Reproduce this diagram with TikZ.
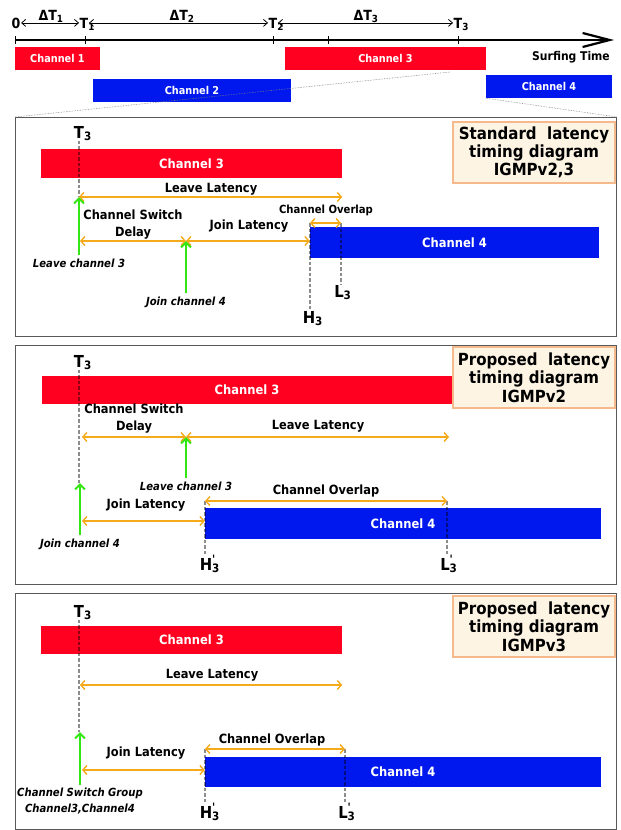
\documentclass[tikz,border=0pt]{standalone}
\usepackage{fontspec}
\setmainfont{DejaVu Sans Condensed}[BoldFont={DejaVu Sans Condensed Bold},ItalicFont={DejaVu Sans Condensed Oblique},BoldItalicFont={DejaVu Sans Condensed Bold Oblique}]
\usetikzlibrary{arrows.meta}

\definecolor{chred}{RGB}{255,0,32}
\definecolor{chblue}{RGB}{0,24,238}
\definecolor{latorange}{RGB}{245,170,25}
\definecolor{actgreen}{RGB}{50,230,20}
\definecolor{boxfill}{RGB}{253,244,228}
\definecolor{boxedge}{RGB}{245,185,140}

\newcommand{\tsub}[2]{#1\rlap{\textsubscript{#2}}}
\newcommand{\tsubp}[2]{#1\rlap{\textsuperscript{\textquotesingle}}\rlap{\textsubscript{#2}}}

\tikzset{
  lbl/.style={font=\fontsize{12.7}{17}\selectfont\bfseries, inner sep=0pt, align=center},
  smalllbl/.style={lbl, font=\fontsize{11.2}{13}\selectfont\bfseries},
  actlbl/.style={font=\fontsize{11.2}{16}\selectfont\bfseries\itshape, inner sep=3pt, align=center},
  tlbl/.style={font=\fontsize{14}{16}\selectfont\bfseries, inner sep=0.5pt},
  tname/.style={font=\fontsize{16.5}{18}\selectfont\bfseries, inner sep=0pt},
  bar/.style={inner sep=0pt, text=white, font=\fontsize{12.8}{15}\selectfont\bfseries},
  redbar/.style={bar, fill=chred, minimum height=28pt},
  bluebar/.style={bar, fill=chblue, minimum height=31pt},
  topbar/.style={minimum height=23pt, font=\fontsize{10.8}{13}\selectfont\bfseries},
  panel/.style={draw=black!65, line width=1pt, inner sep=0pt},
  titlebox/.style={draw=boxedge, fill=boxfill, line width=1.5pt, minimum width=162pt,
    minimum height=61pt, align=center, inner sep=0pt, font=\fontsize{16.7}{18.3}\selectfont\bfseries},
  lat/.style={draw=latorange, line width=1.4pt,
    {Straight Barb[length=4pt,width=9pt]}-{Straight Barb[length=4pt,width=9pt]}},
  act/.style={draw=actgreen, line width=2pt, -{Straight Barb[length=5pt,width=10pt]}},
  guide/.style={draw=black, draw opacity=0.45, line width=2pt, dash pattern=on 3.5pt off 2pt},
  axis/.style={line width=2.2pt, -{Straight Barb[length=27pt,width=14pt]}},
  axtick/.style={line width=1pt},
  gap/.style={line width=0.8pt, {Straight Barb[length=4pt,width=7pt]}-{Straight Barb[length=4pt,width=7pt]}},
  zoomline/.style={draw=black!50, line width=0.6pt, dash pattern=on 0.6pt off 1pt}
}

\begin{document}
\begin{tikzpicture}[x=1pt, y=-1pt]
    \useasboundingbox (0,0) rectangle (621,830);

    % Surfing timeline
    \draw[axis] (15,40) -- (614,40);
    \foreach \x in {15,85,273,328,458}
        \draw[axtick] (\x,36) -- (\x,44);
    \node[tlbl, anchor=base] (t0) at (16,28) {0};
    \node[tlbl, anchor=base] (t1) at (84,28) {\tsub{T}{1}};
    \node[tlbl, anchor=base] (t2) at (273,28) {\tsub{T}{2}};
    \node[tlbl, anchor=base] (t3) at (458,28) {\tsub{T}{3}};
    \draw[gap] (t0.east) -- (t1.west |- t0.east);
    \draw[gap] (t1.east |- t0.east) -- (t2.west |- t0.east);
    \draw[gap] (t2.east |- t0.east) -- (t3.west |- t0.east);
    \node[tlbl, anchor=base] (dt1) at (51,20) {ΔT\textsubscript{1}};
    \node[tlbl, anchor=base] (dt2) at (182,20) {ΔT\textsubscript{2}};
    \node[tlbl, anchor=base] (dt3) at (366,20) {ΔT\textsubscript{3}};
    \node[lbl, font=\fontsize{12}{14}\selectfont\bfseries] (surf) at (571,57) {Surfing Time};
    \node[redbar, topbar, minimum width=85pt] (ch1) at (57.5,58.5) {Channel 1};
    \node[redbar, topbar, minimum width=201pt] (ch3) at (385.5,58.5) {Channel 3};
    \node[bluebar, topbar, minimum width=198pt] (ch2) at (192,90.5) {Channel 2};
    \node[bluebar, topbar, minimum width=126pt] (ch4) at (549,86.5) {Channel 4};

    % Standard latency, IGMPv2,3
    \node[panel, minimum width=601pt, minimum height=219pt, anchor=north west] (p1) at (15,117) {};
    \coordinate (z1) at (450,72);
    \draw[zoomline] (p1.north west) -- (z1);
    \draw[zoomline] (ch4.south west) -- (p1.north east);
    \node[titlebox] (h1) at (534,152.5) {Standard\ \ latency\\timing diagram\\IGMPv2,3};
    \node[redbar, minimum width=301pt, minimum height=29pt] (r1) at (191.5,163.5) {Channel 3};
    \node[bluebar, minimum width=289pt] (b1) at (454.5,242.5) {Channel 4};
    \node[tname, anchor=base] (T1) at (79,138) {\tsub{T}{3}};
    \node[tname, anchor=base] (H1) at (309,323) {\tsub{H}{3}};
    \node[tname, anchor=base] (L1) at (339,297) {\tsub{L}{3}};
    \coordinate (s1) at (79,197);
    \coordinate (g1) at (80,241);
    \coordinate (g2) at (186,241);
    \coordinate (o1) at (310,223);
    \coordinate (e1) at (341,223);
    \draw[guide] (T1.south) -- (s1);
    \draw[guide] (o1) -- (o1 |- H1.north);
    \draw[guide] (e1) -- (e1 |- L1.north);
    \draw[lat] (s1) -- (r1.east |- s1);
    \draw[lat] (g1) -- (g2);
    \draw[lat] (g2) -- (b1.west |- g2);
    \draw[lat] (o1) -- (e1);
    \node[lbl] (ll1) at (211,189) {Leave Latency};
    \node[lbl] (csd1) at (133,224.5) {Channel Switch\\Delay};
    \node[lbl] (jl1) at (249,226) {Join Latency};
    \node[smalllbl] (co1) at (326,210) {Channel Overlap};
    \node[actlbl] (lv1) at (79,263) {Leave channel 3};
    \node[actlbl] (jc1) at (186,302) {Join channel 4};
    \draw[act] (lv1) -- (lv1 |- s1);
    \draw[act] (jc1) -- (g2);

    % Proposed latency, IGMPv2
    \node[panel, minimum width=601pt, minimum height=239pt, anchor=north west] (p2) at (15,345) {};
    \node[redbar, minimum width=410pt] (r2) at (247,390) {Channel 3};
    \node[titlebox] (h2) at (534,377.5) {Proposed\ \ latency\\timing diagram\\IGMPv2};
    \node[bluebar, minimum width=396pt] (b2) at (403,523.5) {Channel 4};
    \node[tname, anchor=base] (T2) at (79,367) {\tsub{T}{3}};
    \node[tname, anchor=base] (H2) at (206,570) {\tsubp{H}{3}};
    \node[tname, anchor=base] (L2) at (445,570) {\tsubp{L}{3}};
    \coordinate (s2) at (79,483);
    \coordinate (g3) at (82,437);
    \coordinate (g4) at (186,437);
    \coordinate (e2) at (449,437);
    \coordinate (j2) at (82,521);
    \coordinate (o2) at (205,501);
    \coordinate (e3) at (447,501);
    \draw[guide] (T2.south) -- (s2);
    \draw[guide] (o2) -- (o2 |- H2.north);
    \draw[guide] (e3) -- (e3 |- L2.north);
    \draw[lat] (g3) -- (g4);
    \draw[lat] (g4) -- (e2);
    \draw[lat] (j2) -- (b2.west |- j2);
    \draw[lat] (o2) -- (e3);
    \node[lbl] (csd2) at (134,419) {Channel Switch\\Delay};
    \node[lbl] (ll2) at (318,426) {Leave Latency};
    \node[lbl] (jl2) at (146,505) {Join Latency};
    \node[lbl] (co2) at (326,491) {Channel Overlap};
    \node[actlbl] (lv2) at (186,486) {Leave channel 3};
    \node[actlbl] (jc2) at (80,544) {Join channel 4};
    \draw[act] (lv2) -- (g4);
    \draw[act] (jc2) -- (jc2 |- s2);

    % Proposed latency, IGMPv3
    \node[panel, minimum width=601pt, minimum height=235.5pt, anchor=north west] (p3) at (15,593) {};
    \node[titlebox] (h3) at (534,626.5) {Proposed\ \ latency\\timing diagram\\IGMPv3};
    \node[redbar, minimum width=301pt] (r3) at (191.5,640) {Channel 3};
    \node[bluebar, minimum width=396pt, minimum height=30pt] (b3) at (403,772) {Channel 4};
    \node[tname, anchor=base] (T3) at (79,617) {\tsub{T}{3}};
    \node[tname, anchor=base] (H3) at (206,818) {\tsubp{H}{3}};
    \node[tname, anchor=base] (L3) at (343,818) {\tsubp{L}{3}};
    \coordinate (s3) at (79,732);
    \coordinate (a3) at (80,685);
    \coordinate (j3) at (82,770);
    \coordinate (o3) at (205,749);
    \coordinate (e4) at (345,749);
    \draw[guide] (T3.south) -- (s3);
    \draw[guide] (o3) -- (o3 |- H3.north);
    \draw[guide] (e4) -- (e4 |- L3.north);
    \draw[lat] (a3) -- (r3.east |- a3);
    \draw[lat] (j3) -- (b3.west |- j3);
    \draw[lat] (o3) -- (e4);
    \node[lbl] (ll3) at (212,675) {Leave Latency};
    \node[lbl] (jl3) at (146,753) {Join Latency};
    \node[lbl] (co3) at (272,740) {Channel Overlap};
    \node[actlbl] (sw3) at (80,801) {Channel Switch Group\\Channel3,Channel4};
    \draw[act] (sw3) -- (sw3 |- s3);
\end{tikzpicture}
\end{document}
